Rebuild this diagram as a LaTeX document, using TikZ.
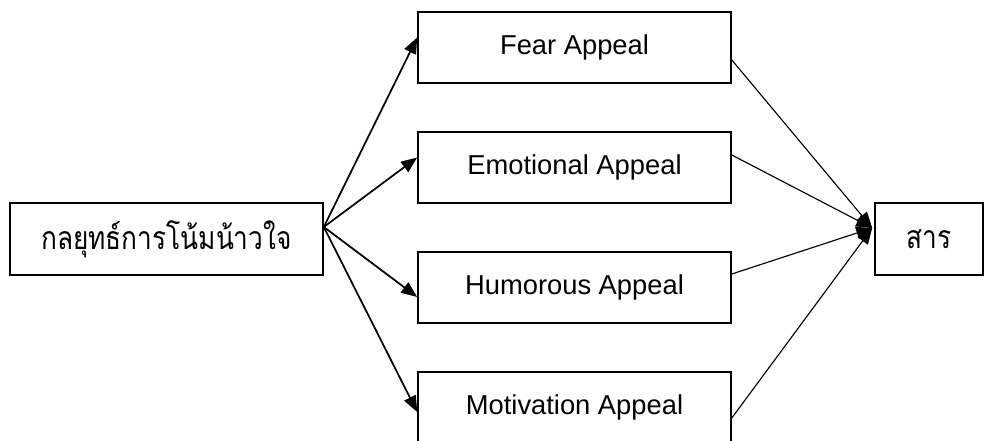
\documentclass[tikz,border=0pt]{standalone}
\usepackage{fontspec}
\setmainfont{Liberation Sans}
\newfontfamily\thaifont[Script=Thai,FakeStretch=0.82]{Loma}
\usetikzlibrary{arrows.meta,calc}
\begin{document}
\begin{tikzpicture}[x=0.75pt,y=-0.75pt,
  box/.style={draw,line width=1.2pt,inner sep=0pt,font=\fontsize{20.5}{24}\selectfont},
  apbox/.style={box,minimum width=313*0.75pt,minimum height=71*0.75pt},
  thaitext/.style={font=\thaifont\fontsize{24}{28}\selectfont},
  inarrow/.style={line width=1.3pt,-{Triangle[length=12pt,width=9.5pt]}},
  outarrow/.style={line width=0.85pt,-{Triangle[length=12pt,width=9.5pt]}}]
\useasboundingbox (0,0) rectangle (984,441);
\node[box,thaitext,minimum width=313*0.75pt,minimum height=72*0.75pt] (L) at (166.5,239) {กลยุทธ์การโน้มน้าวใจ};
\node[apbox] (F) at (574.5,47.5) {Fear Appeal};
\node[apbox] (E) at (574.5,167.5) {Emotional Appeal};
\node[apbox] (H) at (574.5,287.5) {Humorous Appeal};
\node[apbox] (M) at (574.5,407.5) {Motivation Appeal};
\node[box,thaitext,minimum width=108*0.75pt,minimum height=72*0.75pt] (S) at (929,239) {สาร};
\coordinate (src) at ($(L.east)+(0,-12)$);
\coordinate (dst) at ($(S.west)+(-2,-11)$);
\draw[inarrow] (src) -- ($(F.west)+(0,-10)$);
\draw[inarrow] (src) -- ($(E.west)+(0,-10)$);
\draw[inarrow] (src) -- ($(H.west)+(0,9.5)$);
\draw[inarrow] (src) -- ($(M.west)+(0,4.5)$);
\draw[outarrow] ($(F.east)+(0,12.5)$) -- (dst);
\draw[outarrow] ($(E.east)+(0,-12.5)$) -- (dst);
\draw[outarrow] ($(H.east)+(0,-13.5)$) -- (dst);
\draw[outarrow] ($(M.east)+(0,10.5)$) -- (dst);
\end{tikzpicture}
\end{document}
